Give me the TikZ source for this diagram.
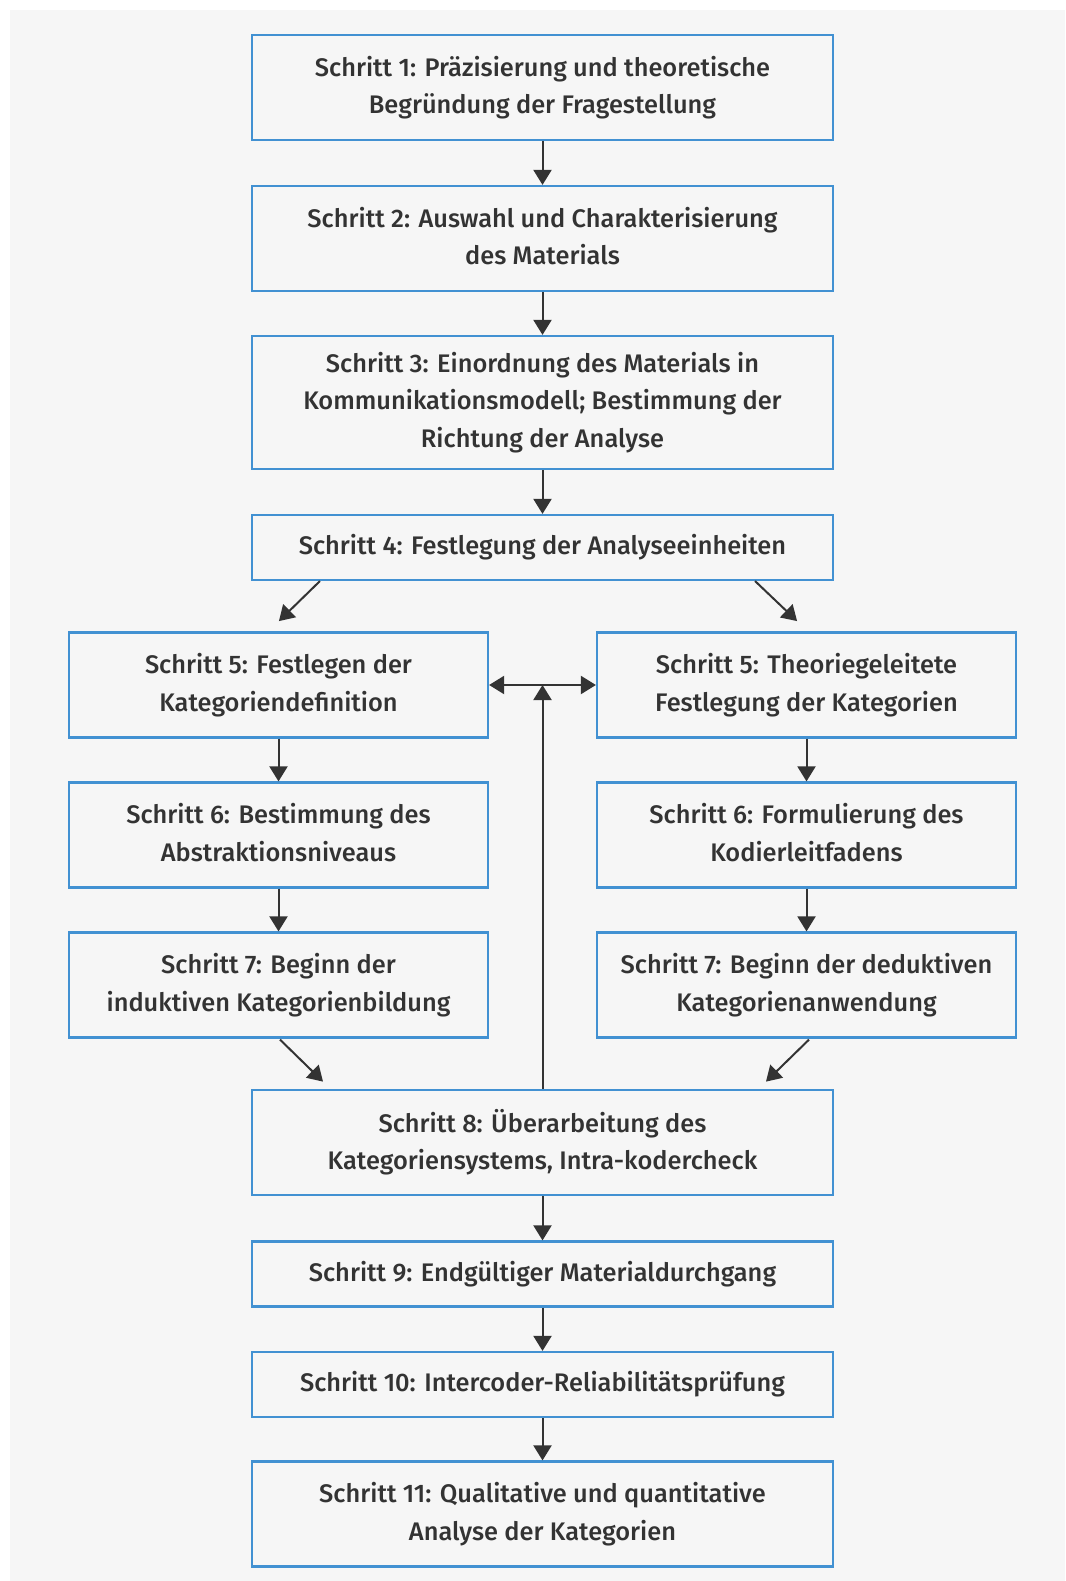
\documentclass[tikz,border=0pt]{standalone}
\usepackage{fontspec}
\setmainfont{Fira Sans Medium}
\usetikzlibrary{arrows.meta,calc}
\definecolor{boxblue}{RGB}{66,145,210}
\definecolor{ink}{RGB}{51,51,51}
\definecolor{paper}{RGB}{246,246,246}
\begin{document}
\begin{tikzpicture}[x=1pt,y=-1pt,
  stepbox/.style={draw=boxblue,line width=2.2pt,fill=paper,text=ink,align=center,
    inner sep=0pt,font=\fontsize{25.4}{37.3}\selectfont,
    execute at end node={\vphantom{g}}},
  mainbox/.style={stepbox,minimum width=581pt},
  sidebox/.style={stepbox,minimum width=419pt},
  tip/.tip={Triangle[length=15pt,width=18pt]},
  flow/.style={draw=ink,line width=2pt,-tip},
]
\useasboundingbox (0,0) rectangle (1065,1581);
\fill[white] (0,0) rectangle (1065,1581);
\fill[paper] (10,10) rectangle (1065,1581);

% main column
\node[mainbox,minimum height=105pt] (s1) at (542.5,87.5)
  {Schritt 1: Präzisierung und theoretische\\Begründung der Fragestellung};
\node[mainbox,minimum height=105pt] (s2) at (542.5,238.5)
  {Schritt 2: Auswahl und Charakterisierung\\des Materials};
\node[mainbox,minimum height=133pt] (s3) at (542.5,402.5)
  {Schritt 3: Einordnung des Materials in\\Kommunikationsmodell; Bestimmung der\\Richtung der Analyse};
\node[mainbox,minimum height=65pt] (s4) at (542.5,547.5)
  {Schritt 4: Festlegung der Analyseeinheiten};

% inductive branch
\node[sidebox,minimum height=105pt] (l5) at (278.5,685)
  {Schritt 5: Festlegen der\\Kategoriendefinition};
\node[sidebox,minimum height=105pt] (l6) at (278.5,835)
  {Schritt 6: Bestimmung des\\Abstraktionsniveaus};
\node[sidebox,minimum height=105pt] (l7) at (278.5,985)
  {Schritt 7: Beginn der\\induktiven Kategorienbildung};

% deductive branch
\node[sidebox,minimum height=105pt] (r5) at (806.5,685)
  {Schritt 5: Theoriegeleitete\\Festlegung der Kategorien};
\node[sidebox,minimum height=105pt] (r6) at (806.5,835)
  {Schritt 6: Formulierung des\\Kodierleitfadens};
\node[sidebox,minimum height=105pt] (r7) at (806.5,985)
  {Schritt 7: Beginn der deduktiven\\Kategorienanwendung};

% lower main column
\node[mainbox,minimum height=105pt] (s8) at (542.5,1142.5)
  {Schritt 8: Überarbeitung des\\Kategoriensystems, Intra-kodercheck};
\node[mainbox,minimum height=65pt] (s9) at (542.5,1274)
  {Schritt 9: Endgültiger Materialdurchgang};
\node[mainbox,minimum height=65pt] (s10) at (542.5,1384.5)
  {Schritt 10: Intercoder-Reliabilitätsprüfung};
\node[mainbox,minimum height=105pt] (s11) at (542.5,1514)
  {Schritt 11: Qualitative und quantitative\\Analyse der Kategorien};

% straight connectors
\draw[flow] (s1) -- (s2);
\draw[flow] (s2) -- (s3);
\draw[flow] (s3) -- (s4);
\draw[flow] (l5) -- (l6);
\draw[flow] (l6) -- (l7);
\draw[flow] (r5) -- (r6);
\draw[flow] (r6) -- (r7);
\draw[flow] (s8) -- (s9);
\draw[flow] (s9) -- (s10);
\draw[flow] (s10) -- (s11);

% branching from step 4
\coordinate (fl) at ($(s4.south west)+(69,0)$);
\coordinate (fr) at ($(s4.south east)+(-79,0)$);
\coordinate (tl) at ($(fl)+(-41,40)$);
\coordinate (tr) at ($(fr)+(42,40)$);
\draw[flow] (fl) -- (tl);
\draw[flow] (fr) -- (tr);

% merging into step 8
\coordinate (ml) at ($(l7.south)+(1.5,1)$);
\coordinate (mr) at ($(r7.south)+(2.5,1)$);
\coordinate (el) at ($(ml)+(43,42)$);
\coordinate (er) at ($(mr)+(-43,42)$);
\draw[flow] (ml) -- (el);
\draw[flow] (mr) -- (er);

% feedback loop between the two step-5 boxes
\draw[flow,tip-tip] (l5.east) -- (r5.west);
\draw[flow] (s8.north) -- (s8.north |- l5.east);
\end{tikzpicture}
\end{document}
